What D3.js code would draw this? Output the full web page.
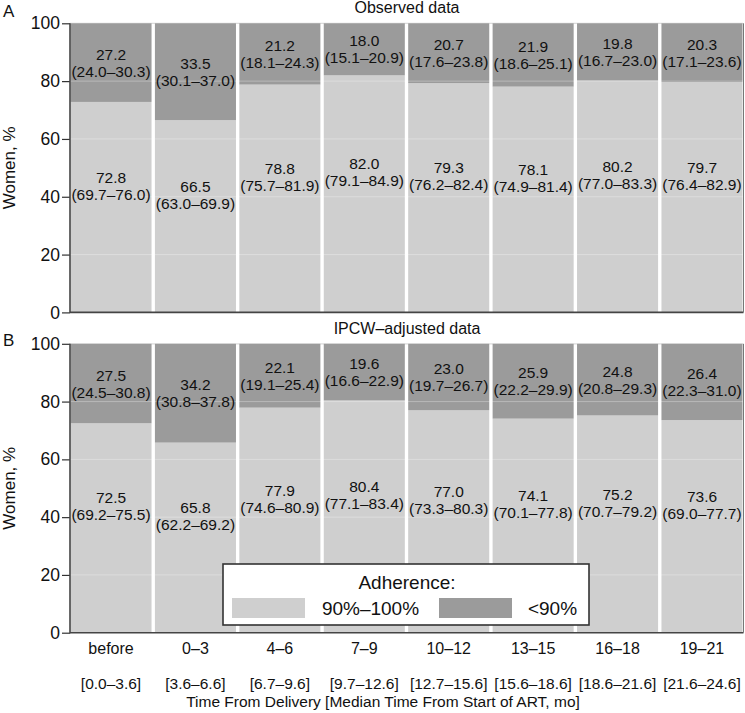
<!DOCTYPE html>
<html>
<head>
<meta charset="utf-8">
<script src="https://cdn.jsdelivr.net/npm/d3@7"></script>
<style>
  body { margin: 0; background: #fff; }
  svg { display: block; font-family: "Liberation Sans", Arial, sans-serif; }
</style>
</head>
<body>
<svg id="chart" width="745" height="713"></svg>
<script>
const categories = ["before", "0–3", "4–6", "7–9", "10–12", "13–15", "16–18", "19–21"];
const intervals = ["[0.0–3.6]", "[3.6–6.6]", "[6.7–9.6]", "[9.7–12.6]", "[12.7–15.6]", "[15.6–18.6]", "[18.6–21.6]", "[21.6–24.6]"];
const yTicks = [0, 20, 40, 60, 80, 100];

const obsHigh = [72.8, 66.5, 78.8, 82.0, 79.3, 78.1, 80.2, 79.7];
const obsHighCI = ["69.7–76.0", "63.0–69.9", "75.7–81.9", "79.1–84.9", "76.2–82.4", "74.9–81.4", "77.0–83.3", "76.4–82.9"];
const obsLow = [27.2, 33.5, 21.2, 18.0, 20.7, 21.9, 19.8, 20.3];
const obsLowCI = ["24.0–30.3", "30.1–37.0", "18.1–24.3", "15.1–20.9", "17.6–23.8", "18.6–25.1", "16.7–23.0", "17.1–23.6"];

const adjHigh = [72.5, 65.8, 77.9, 80.4, 77.0, 74.1, 75.2, 73.6];
const adjHighCI = ["69.2–75.5", "62.2–69.2", "74.6–80.9", "77.1–83.4", "73.3–80.3", "70.1–77.8", "70.7–79.2", "69.0–77.7"];
const adjLow = [27.5, 34.2, 22.1, 19.6, 23.0, 25.9, 24.8, 26.4];
const adjLowCI = ["24.5–30.8", "30.8–37.8", "19.1–25.4", "16.6–22.9", "19.7–26.7", "22.2–29.9", "20.8–29.3", "22.3–31.0"];

const legendLabels = ["90%–100%", "<90%"];
const colHigh = "#cfcfcf", colLow = "#9b9b9b";

const svg = d3.select("#chart");
const x = d3.scaleBand().domain(categories).range([70.5, 742.5]).paddingInner(0.04).paddingOuter(0);

const panels = [
  { letter: "A", letterY: 17, title: "Observed data", high: obsHigh, highCI: obsHighCI, low: obsLow, lowCI: obsLowCI, top: 23.3, bottom: 312.4 },
  { letter: "B", letterY: 345.5, title: "IPCW–adjusted data", high: adjHigh, highCI: adjHighCI, low: adjLow, lowCI: adjLowCI, top: 343.8, bottom: 632.7 }
];

panels.forEach(p => {
  const y = d3.scaleLinear().domain([0, 100]).range([p.bottom, p.top]);
  const g = svg.append("g");

  g.append("line").attr("x1", 70).attr("x2", 743).attr("y1", p.top).attr("y2", p.top)
    .attr("stroke", "#dcdcdc").attr("stroke-width", 1.2);

  categories.forEach((c, i) => {
    g.append("rect").attr("x", x(c)).attr("width", x.bandwidth())
      .attr("y", y(p.high[i])).attr("height", y(0) - y(p.high[i])).attr("fill", colHigh);
    g.append("rect").attr("x", x(c)).attr("width", x.bandwidth())
      .attr("y", y(p.high[i] + p.low[i])).attr("height", y(p.high[i]) - y(p.high[i] + p.low[i])).attr("fill", colLow);
  });

  g.selectAll(".grid").data(yTicks.filter(t => t > 0 && t < 100)).enter().append("line")
    .attr("x1", 70).attr("x2", 743).attr("y1", d => y(d)).attr("y2", d => y(d))
    .attr("stroke", "#ffffff").attr("stroke-opacity", 0.3).attr("stroke-width", 1);

  const lab = (cx, cy, l1, l2) => {
    const t = g.append("text").attr("text-anchor", "middle").attr("font-size", 15.5).attr("fill", "#111");
    t.append("tspan").attr("x", cx).attr("y", cy - 3).text(l1);
    t.append("tspan").attr("x", cx).attr("y", cy + 14).text(l2);
  };
  categories.forEach((c, i) => {
    const cx = x(c) + x.bandwidth() / 2;
    lab(cx, (y(p.high[i]) + y(p.high[i] + p.low[i])) / 2, p.low[i].toFixed(1), "(" + p.lowCI[i] + ")");
    lab(cx, (y(0) + y(p.high[i])) / 2 - 21.5, p.high[i].toFixed(1), "(" + p.highCI[i] + ")");
  });

  const ax = g.append("g").attr("transform", `translate(70,0)`)
    .call(d3.axisLeft(y).tickValues(yTicks).tickSize(8).tickPadding(2).tickFormat(d3.format("d")));
  ax.select(".domain").remove();
  ax.selectAll("line").attr("stroke", "#333").attr("stroke-width", 1.2);
  ax.selectAll("text").attr("font-size", 17.5).attr("fill", "#111").attr("font-family", "Liberation Sans, Arial, sans-serif");
  g.append("line").attr("x1", 70).attr("x2", 70).attr("y1", p.top).attr("y2", p.bottom + 0.5)
    .attr("stroke", "#444").attr("stroke-width", 1.6);
  g.append("line").attr("x1", 70).attr("x2", 743.5).attr("y1", p.bottom).attr("y2", p.bottom)
    .attr("stroke", "#444").attr("stroke-width", 1.6);
  g.append("line").attr("x1", 743.5).attr("x2", 743.5).attr("y1", p.top).attr("y2", p.bottom)
    .attr("stroke", "#777").attr("stroke-width", 1);

  g.append("text").attr("x", 407).attr("y", p.top - 10).attr("text-anchor", "middle")
    .attr("font-size", 16).attr("fill", "#111").text(p.title);
  g.append("text").attr("x", 3).attr("y", p.letterY).attr("font-size", 17).attr("fill", "#111").text(p.letter);

  g.append("text").attr("transform", `translate(15,${(p.top + p.bottom) / 2}) rotate(-90)`)
    .attr("text-anchor", "middle").attr("font-size", 17).attr("fill", "#111").text("Women, %");
});

categories.forEach((c, i) => {
  const cx = x(c) + x.bandwidth() / 2;
  svg.append("text").attr("x", cx).attr("y", 654).attr("text-anchor", "middle").attr("font-size", 16).attr("fill", "#111").text(c);
  svg.append("text").attr("x", cx).attr("y", 689).attr("text-anchor", "middle").attr("font-size", 15.5).attr("fill", "#111").text(intervals[i]);
});
svg.append("text").attr("x", 383).attr("y", 706.5).attr("text-anchor", "middle").attr("font-size", 15.5).attr("fill", "#111")
  .text("Time From Delivery [Median Time From Start of ART, mo]");

const lg = svg.append("g");
lg.append("rect").attr("x", 223).attr("y", 564).attr("width", 366).attr("height", 61)
  .attr("fill", "#fff").attr("stroke", "#333").attr("stroke-width", 1.6);
lg.append("text").attr("x", 407).attr("y", 589).attr("text-anchor", "middle").attr("font-size", 19).attr("fill", "#111").text("Adherence:");
const keys = [{ x: 232, tx: 370.5, col: colHigh }, { x: 439, tx: 552.5, col: colLow }];
keys.forEach((k, i) => {
  lg.append("rect").attr("x", k.x).attr("y", 598).attr("width", 73).attr("height", 20).attr("fill", k.col);
  lg.append("text").attr("x", k.tx).attr("y", 615).attr("text-anchor", "middle").attr("font-size", 19).attr("fill", "#111").text(legendLabels[i]);
});
</script>
</body>
</html>
